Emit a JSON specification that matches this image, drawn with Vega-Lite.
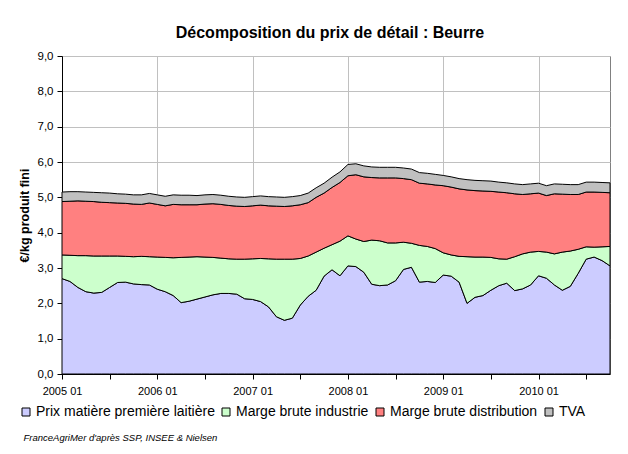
{
  "$schema": "https://vega.github.io/schema/vega-lite/v6.json",
  "width": 548,
  "height": 318,
  "autosize": {"type": "none"},
  "padding": {"left": 62, "top": 56, "right": 18, "bottom": 80},
  "background": "white",
  "title": {
    "text": "Décomposition du prix de détail : Beurre",
    "font": "Liberation Sans",
    "fontSize": 16,
    "fontWeight": "bold",
    "color": "black",
    "anchor": "middle",
    "frame": "group",
    "dx": -6,
    "offset": 9
  },
  "datasets": {
    "ordre": [
      {"cle": "prix", "serie": "Prix matière première laitière", "rang": 1},
      {"cle": "industrie", "serie": "Marge brute industrie", "rang": 2},
      {"cle": "distribution", "serie": "Marge brute distribution", "rang": 3},
      {"cle": "tva", "serie": "TVA", "rang": 4}
    ],
    "beurre": [
      {"mois": "2005 01", "prix": 2.70, "industrie": 0.67, "distribution": 1.51, "tva": 0.27},
      {"mois": "2005 02", "prix": 2.62, "industrie": 0.74, "distribution": 1.53, "tva": 0.27},
      {"mois": "2005 03", "prix": 2.45, "industrie": 0.90, "distribution": 1.55, "tva": 0.26},
      {"mois": "2005 04", "prix": 2.33, "industrie": 1.02, "distribution": 1.54, "tva": 0.26},
      {"mois": "2005 05", "prix": 2.29, "industrie": 1.05, "distribution": 1.54, "tva": 0.26},
      {"mois": "2005 06", "prix": 2.31, "industrie": 1.03, "distribution": 1.52, "tva": 0.27},
      {"mois": "2005 07", "prix": 2.45, "industrie": 0.89, "distribution": 1.51, "tva": 0.27},
      {"mois": "2005 08", "prix": 2.59, "industrie": 0.75, "distribution": 1.50, "tva": 0.26},
      {"mois": "2005 09", "prix": 2.60, "industrie": 0.73, "distribution": 1.50, "tva": 0.26},
      {"mois": "2005 10", "prix": 2.55, "industrie": 0.77, "distribution": 1.49, "tva": 0.26},
      {"mois": "2005 11", "prix": 2.53, "industrie": 0.80, "distribution": 1.47, "tva": 0.27},
      {"mois": "2005 12", "prix": 2.52, "industrie": 0.80, "distribution": 1.52, "tva": 0.27},
      {"mois": "2006 01", "prix": 2.40, "industrie": 0.91, "distribution": 1.49, "tva": 0.27},
      {"mois": "2006 02", "prix": 2.33, "industrie": 0.97, "distribution": 1.46, "tva": 0.27},
      {"mois": "2006 03", "prix": 2.22, "industrie": 1.07, "distribution": 1.51, "tva": 0.27},
      {"mois": "2006 04", "prix": 2.02, "industrie": 1.28, "distribution": 1.49, "tva": 0.27},
      {"mois": "2006 05", "prix": 2.06, "industrie": 1.25, "distribution": 1.48, "tva": 0.27},
      {"mois": "2006 06", "prix": 2.12, "industrie": 1.20, "distribution": 1.47, "tva": 0.26},
      {"mois": "2006 07", "prix": 2.18, "industrie": 1.13, "distribution": 1.50, "tva": 0.26},
      {"mois": "2006 08", "prix": 2.24, "industrie": 1.06, "distribution": 1.52, "tva": 0.26},
      {"mois": "2006 09", "prix": 2.28, "industrie": 1.00, "distribution": 1.52, "tva": 0.26},
      {"mois": "2006 10", "prix": 2.28, "industrie": 0.98, "distribution": 1.51, "tva": 0.26},
      {"mois": "2006 11", "prix": 2.26, "industrie": 0.99, "distribution": 1.50, "tva": 0.26},
      {"mois": "2006 12", "prix": 2.13, "industrie": 1.12, "distribution": 1.49, "tva": 0.26},
      {"mois": "2007 01", "prix": 2.11, "industrie": 1.15, "distribution": 1.50, "tva": 0.26},
      {"mois": "2007 02", "prix": 2.05, "industrie": 1.22, "distribution": 1.51, "tva": 0.26},
      {"mois": "2007 03", "prix": 1.90, "industrie": 1.36, "distribution": 1.50, "tva": 0.26},
      {"mois": "2007 04", "prix": 1.62, "industrie": 1.63, "distribution": 1.50, "tva": 0.26},
      {"mois": "2007 05", "prix": 1.52, "industrie": 1.73, "distribution": 1.49, "tva": 0.26},
      {"mois": "2007 06", "prix": 1.58, "industrie": 1.67, "distribution": 1.51, "tva": 0.26},
      {"mois": "2007 07", "prix": 1.95, "industrie": 1.32, "distribution": 1.52, "tva": 0.26},
      {"mois": "2007 08", "prix": 2.20, "industrie": 1.14, "distribution": 1.51, "tva": 0.27},
      {"mois": "2007 09", "prix": 2.37, "industrie": 1.08, "distribution": 1.55, "tva": 0.27},
      {"mois": "2007 10", "prix": 2.77, "industrie": 0.79, "distribution": 1.56, "tva": 0.28},
      {"mois": "2007 11", "prix": 2.95, "industrie": 0.71, "distribution": 1.62, "tva": 0.29},
      {"mois": "2007 12", "prix": 2.78, "industrie": 0.98, "distribution": 1.66, "tva": 0.30},
      {"mois": "2008 01", "prix": 3.06, "industrie": 0.85, "distribution": 1.70, "tva": 0.32},
      {"mois": "2008 02", "prix": 3.04, "industrie": 0.78, "distribution": 1.82, "tva": 0.31},
      {"mois": "2008 03", "prix": 2.88, "industrie": 0.87, "distribution": 1.83, "tva": 0.31},
      {"mois": "2008 04", "prix": 2.54, "industrie": 1.25, "distribution": 1.77, "tva": 0.30},
      {"mois": "2008 05", "prix": 2.50, "industrie": 1.27, "distribution": 1.78, "tva": 0.30},
      {"mois": "2008 06", "prix": 2.52, "industrie": 1.19, "distribution": 1.84, "tva": 0.30},
      {"mois": "2008 07", "prix": 2.64, "industrie": 1.07, "distribution": 1.84, "tva": 0.30},
      {"mois": "2008 08", "prix": 2.96, "industrie": 0.77, "distribution": 1.80, "tva": 0.30},
      {"mois": "2008 09", "prix": 3.02, "industrie": 0.68, "distribution": 1.80, "tva": 0.30},
      {"mois": "2008 10", "prix": 2.60, "industrie": 1.04, "distribution": 1.76, "tva": 0.30},
      {"mois": "2008 11", "prix": 2.62, "industrie": 0.99, "distribution": 1.77, "tva": 0.30},
      {"mois": "2008 12", "prix": 2.59, "industrie": 0.96, "distribution": 1.80, "tva": 0.30},
      {"mois": "2009 01", "prix": 2.80, "industrie": 0.63, "distribution": 1.90, "tva": 0.29},
      {"mois": "2009 02", "prix": 2.77, "industrie": 0.60, "distribution": 1.92, "tva": 0.29},
      {"mois": "2009 03", "prix": 2.60, "industrie": 0.73, "distribution": 1.91, "tva": 0.29},
      {"mois": "2009 04", "prix": 2.00, "industrie": 1.32, "distribution": 1.89, "tva": 0.29},
      {"mois": "2009 05", "prix": 2.17, "industrie": 1.14, "distribution": 1.88, "tva": 0.29},
      {"mois": "2009 06", "prix": 2.22, "industrie": 1.09, "distribution": 1.87, "tva": 0.29},
      {"mois": "2009 07", "prix": 2.37, "industrie": 0.93, "distribution": 1.87, "tva": 0.29},
      {"mois": "2009 08", "prix": 2.50, "industrie": 0.76, "distribution": 1.89, "tva": 0.28},
      {"mois": "2009 09", "prix": 2.57, "industrie": 0.68, "distribution": 1.88, "tva": 0.28},
      {"mois": "2009 10", "prix": 2.36, "industrie": 0.96, "distribution": 1.78, "tva": 0.28},
      {"mois": "2009 11", "prix": 2.41, "industrie": 0.99, "distribution": 1.68, "tva": 0.28},
      {"mois": "2009 12", "prix": 2.52, "industrie": 0.93, "distribution": 1.65, "tva": 0.28},
      {"mois": "2010 01", "prix": 2.78, "industrie": 0.69, "distribution": 1.65, "tva": 0.28},
      {"mois": "2010 02", "prix": 2.71, "industrie": 0.74, "distribution": 1.60, "tva": 0.28},
      {"mois": "2010 03", "prix": 2.52, "industrie": 0.88, "distribution": 1.70, "tva": 0.28},
      {"mois": "2010 04", "prix": 2.37, "industrie": 1.08, "distribution": 1.64, "tva": 0.28},
      {"mois": "2010 05", "prix": 2.48, "industrie": 1.00, "distribution": 1.60, "tva": 0.28},
      {"mois": "2010 06", "prix": 2.85, "industrie": 0.68, "distribution": 1.55, "tva": 0.28},
      {"mois": "2010 07", "prix": 3.25, "industrie": 0.35, "distribution": 1.55, "tva": 0.28},
      {"mois": "2010 08", "prix": 3.31, "industrie": 0.28, "distribution": 1.56, "tva": 0.28},
      {"mois": "2010 09", "prix": 3.21, "industrie": 0.39, "distribution": 1.54, "tva": 0.28},
      {"mois": "2010 10", "prix": 3.06, "industrie": 0.55, "distribution": 1.52, "tva": 0.28}
    ]
  },
  "data": {"name": "beurre"},
  "transform": [
    {"fold": ["prix", "industrie", "distribution", "tva"], "as": ["cle", "valeur"]},
    {"lookup": "cle", "from": {"data": {"name": "ordre"}, "key": "cle", "fields": ["serie", "rang"]}}
  ],
  "mark": {"type": "area", "stroke": "black", "strokeWidth": 1, "opacity": 1, "interpolate": "linear"},
  "encoding": {
    "x": {
      "field": "mois",
      "type": "ordinal",
      "scale": {"type": "point", "padding": 0},
      "axis": {
        "values": ["2005 01", "2005 07", "2006 01", "2006 07", "2007 01", "2007 07", "2008 01", "2008 07", "2009 01", "2009 07", "2010 01", "2010 07"],
        "labelExpr": "slice(datum.value, 5) == '01' ? datum.value : ''",
        "labelAngle": 0,
        "labelFont": "Liberation Sans",
        "labelFontSize": 11,
        "labelColor": "black",
        "labelPadding": 6,
        "tickSize": 5,
        "tickColor": "black",
        "domainColor": "black",
        "grid": true,
        "gridColor": {"condition": {"test": "slice(datum.value, 5) == '07'", "value": "rgba(0,0,0,0)"}, "value": "#C0C0C0"},
        "title": "FranceAgriMer d'après SSP, INSEE & Nielsen",
        "titleFont": "Liberation Sans",
        "titleFontSize": 9.5,
        "titleFontStyle": "italic",
        "titleFontWeight": "normal",
        "titleColor": "black",
        "titleAnchor": "start",
        "titleAlign": "left",
        "titleBaseline": "alphabetic",
        "titleX": -39,
        "titleY": 66
      }
    },
    "y": {
      "field": "valeur",
      "type": "quantitative",
      "stack": "zero",
      "scale": {"domain": [0, 9], "nice": false},
      "axis": {
        "values": [0, 1, 2, 3, 4, 5, 6, 7, 8, 9],
        "labelExpr": "replace(format(datum.value, '.1f'), '.', ',')",
        "labelFont": "Liberation Sans",
        "labelFontSize": 11.5,
        "labelColor": "black",
        "labelPadding": 4,
        "tickSize": 5,
        "tickColor": "black",
        "domainColor": "black",
        "gridColor": "#C0C0C0",
        "title": "€/kg produit fini",
        "titleFont": "Liberation Sans",
        "titleFontSize": 12.5,
        "titleFontWeight": "bold",
        "titleColor": "black",
        "titlePadding": 6
      }
    },
    "color": {
      "field": "serie",
      "type": "nominal",
      "scale": {
        "domain": ["Prix matière première laitière", "Marge brute industrie", "Marge brute distribution", "TVA"],
        "range": ["#CCCCFF", "#CCFFCC", "#FF8080", "#C0C0C0"]
      },
      "legend": {
        "orient": "none",
        "legendX": -43,
        "legendY": 349,
        "direction": "horizontal",
        "columns": 4,
        "title": null,
        "symbolType": "square",
        "symbolSize": 64,
        "symbolStrokeColor": "black",
        "symbolStrokeWidth": 1,
        "symbolOpacity": 1,
        "labelFont": "Liberation Sans",
        "labelFontSize": 14,
        "labelColor": "black",
        "labelOffset": 3,
        "labelLimit": 0,
        "columnPadding": 4
      }
    },
    "order": {"field": "rang", "type": "quantitative"}
  },
  "config": {
    "font": "Liberation Sans",
    "view": {"stroke": "#808080", "strokeWidth": 1}
  }
}
